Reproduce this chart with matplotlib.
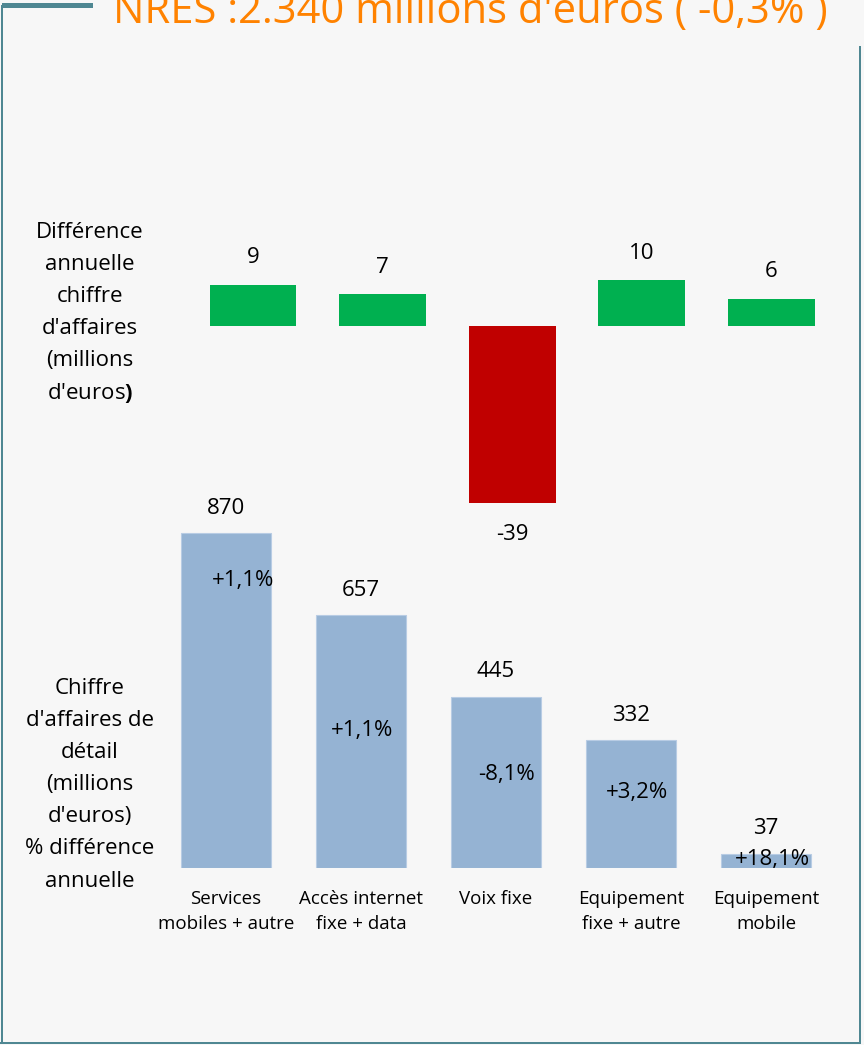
import matplotlib
matplotlib.use("Agg")
import matplotlib.pyplot as plt
from matplotlib.lines import Line2D

# données
categories = ["Services\nmobiles + autre", "Accès internet\nfixe + data", "Voix fixe",
              "Equipement\nfixe + autre", "Equipement\nmobile"]
diff_annuelle = [9, 7, -39, 10, 6]
ca_detail = [870, 657, 445, 332, 37]
pct_diff = ["+1,1%", "+1,1%", "-8,1%", "+3,2%", "+18,1%"]
titre = "NRES :2.340 millions d'euros ( -0,3% )"

# placement des % dans les barres (décalage x, hauteur y en données)
pct_dx = [0.13, 0.01, 0.08, 0.045, 0.045]
pct_y = [748, 358, 242, 197, 23]

plt.rcParams['font.family'] = ['Open Sans', 'DejaVu Sans']
plt.rcParams['mathtext.fontset'] = 'custom'
plt.rcParams['mathtext.rm'] = 'Open Sans'
plt.rcParams['mathtext.bf'] = 'Open Sans:bold'

W, H = 864, 1045
BG = '#f7f7f7'
BORD = '#4f8792'
fig = plt.figure(figsize=(W / 100, H / 100), dpi=100, facecolor=BG)


def fx(x):
    return x / W


def fy(y):
    return 1 - y / H


def rect(x0, y0, x1, y1):
    return [fx(x0), fy(y1), (x1 - x0) / W, (y1 - y0) / H]


# cadre
cadre = [((1.5, 1.5), (6, 1043), 2),
         ((1, 860), (1042.5, 1042.5), 2),
         ((859.5, 859.5), (47, 1043), 2),
         ((4, 90), (5, 5), 5)]
for xs, ys, lw in cadre:
    fig.add_artist(Line2D([fx(v) for v in xs], [fy(v) for v in ys], color=BORD, lw=lw * 0.72))

# titre (ajusté en largeur)
t = fig.text(fx(113), fy(23), titre, color='#ff8200', fontsize=26, ha='left', va='baseline')
fig.canvas.draw()
w = t.get_window_extent().width
t.set_fontsize(26 * 716 / w)

# graphique du haut : différence annuelle
ax1 = fig.add_axes(rect(188.2, 240, 836.2, 520))
ax1.set_facecolor('none')
cols = ['#00b050' if v >= 0 else '#c00000' for v in diff_annuelle]
bars = ax1.bar(range(len(diff_annuelle)), diff_annuelle, width=0.671, color=cols)
for b, v in zip(bars, diff_annuelle):
    off = 19.5 if v >= 0 else -22
    ax1.annotate(str(v), (b.get_x() + b.get_width() / 2, v), xytext=(0, off),
                 textcoords='offset points', ha='center', va='center', fontsize=16)
ax1.set_xlim(-0.5, 4.5)
ax1.set_ylim(-(520 - 326) / 4.55, (326 - 240) / 4.55)
ax1.axis('off')

# graphique du bas : chiffre d'affaires de détail
ax2 = fig.add_axes(rect(158.5, 450, 833.5, 868))
ax2.set_facecolor('none')
bars = ax2.bar(range(len(ca_detail)), ca_detail, width=0.667, color='#95b3d3',
               edgecolor='#b8cce4', linewidth=0.8)
for i, (b, v) in enumerate(zip(bars, ca_detail)):
    ax2.annotate(str(v), (b.get_x() + b.get_width() / 2, v), xytext=(0, 18),
                 textcoords='offset points', ha='center', va='center', fontsize=16)
    ax2.text(i + pct_dx[i], pct_y[i], pct_diff[i], ha='center', va='center', fontsize=16)
ax2.set_xlim(-0.5, 4.5)
ax2.set_ylim(0, 418 / 0.385)
ax2.set_xticks(range(len(categories)), categories, fontsize=13.5, linespacing=1.45)
ax2.tick_params(length=0, pad=16)
ax2.set_yticks([])
for s in ax2.spines.values():
    s.set_visible(False)

# libellés de gauche
haut = ["Différence", "annuelle", "chiffre", "d'affaires", "(millions", r"d'euros$\mathbf{)}$"]
for k, ligne in enumerate(haut):
    fig.text(fx(90), fy(232 + 32.2 * k), ligne, ha='center', va='center', fontsize=16)
bas = ["Chiffre", "d'affaires de", "détail", "(millions", "d'euros)", "% différence", "annuelle"]
for k, ligne in enumerate(bas):
    fig.text(fx(90), fy(688 + 32.2 * k), ligne, ha='center', va='center', fontsize=16)

fig.savefig('out.png', dpi=100, facecolor=BG)
